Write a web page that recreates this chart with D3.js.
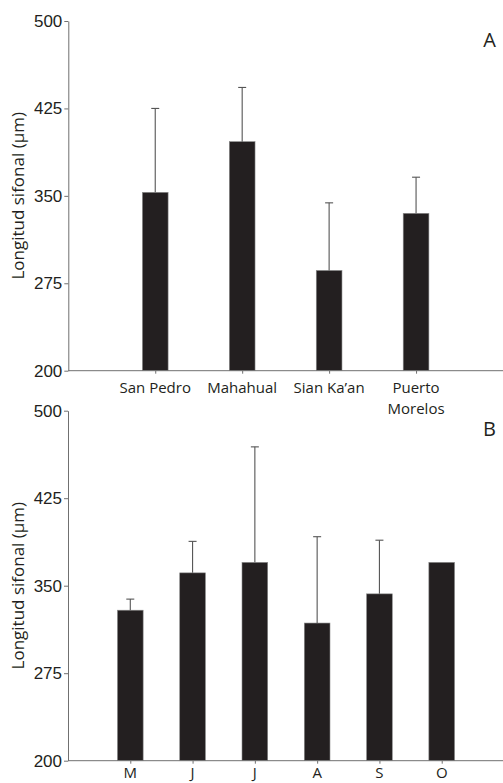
<!DOCTYPE html>
<html>
<head>
<meta charset="utf-8">
<script src="https://cdn.jsdelivr.net/npm/d3@7"></script>
<style>
  body { margin: 0; background: #fff; }
  svg { display: block; font-family: "Open Sans", "Noto Sans", sans-serif; }
  .axis path, .axis line { stroke: #707070; }
</style>
</head>
<body>
<svg id="chart" width="503" height="783"></svg>
<script>
// datos del panel A (sitios)
const sitios = ["San Pedro", "Mahahual", "Sian Ka’an", "Puerto Morelos"];
const mediaSitio = [353, 396.5, 286, 335];
const errorSitio = [72, 46.5, 58, 31];

// datos del panel B (meses)
const meses = ["M", "J", "J", "A", "S", "O"];
const mediaMes = [329, 361, 370, 318, 343, 370];
const errorMes = [9.5, 27, 99, 74, 46, 0];

const yTicks = [200, 275, 350, 425, 500];

const svg = d3.select("#chart");

function panel(cfg) {
  const g = svg.append("g");
  const idx = cfg.labels.map((d, i) => i);

  const x = d3.scalePoint().domain(idx).range([cfg.left, cfg.right]).padding(1);
  const y = d3.scaleLinear().domain([200, 500]).range([cfg.bottom, cfg.top]);
  const barW = 25.7;

  // barras
  g.selectAll(".bar")
    .data(idx)
    .enter()
    .append("rect")
    .attr("x", (i) => x(i) - barW / 2)
    .attr("y", (i) => y(cfg.media[i]))
    .attr("width", barW)
    .attr("height", (i) => y(200) - y(cfg.media[i]))
    .attr("fill", "#231f20")
    .attr("stroke", "#8a8a8a")
    .attr("stroke-width", 0.6);

  // barras de error (solo hacia arriba)
  const err = g.selectAll(".err")
    .data(idx.filter((i) => cfg.error[i] > 0))
    .enter()
    .append("g")
    .attr("stroke", "#555")
    .attr("stroke-width", 1.1);

  err.append("line")
    .attr("x1", (i) => x(i))
    .attr("x2", (i) => x(i))
    .attr("y1", (i) => y(cfg.media[i]))
    .attr("y2", (i) => y(cfg.media[i] + cfg.error[i]));

  err.append("line")
    .attr("x1", (i) => x(i) - 4)
    .attr("x2", (i) => x(i) + 4)
    .attr("y1", (i) => y(cfg.media[i] + cfg.error[i]))
    .attr("y2", (i) => y(cfg.media[i] + cfg.error[i]));

  // eje y
  const yAxis = g.append("g")
    .attr("class", "axis")
    .attr("transform", `translate(${cfg.left},0)`)
    .call(d3.axisLeft(y).tickValues(yTicks).tickSize(4).tickSizeOuter(0));
  yAxis.selectAll("text")
    .attr("font-size", 17)
    .attr("fill", "#231f20")
    .attr("x", -6);

  // eje x
  const xAxis = g.append("g")
    .attr("class", "axis")
    .attr("transform", `translate(0,${cfg.bottom})`)
    .call(d3.axisBottom(x).tickSize(3).tickSizeOuter(0).tickFormat(() => ""));
  xAxis.select(".domain").attr("d", `M${cfg.left},0H${cfg.right}`);

  // etiquetas de categoría ("Puerto Morelos" en dos líneas, cada una su propio texto)
  const lineas = [];
  idx.forEach((i) => {
    const lab = cfg.labels[i];
    const partes = lab.startsWith("Puerto") ? lab.split(" ") : [lab];
    partes.forEach((t, k) => lineas.push({ i, t, k }));
  });

  g.selectAll(".cat")
    .data(lineas)
    .enter()
    .append("text")
    .attr("text-anchor", "middle")
    .attr("font-size", cfg.labelSize)
    .attr("fill", "#231f20")
    .attr("x", (d) => x(d.i))
    .attr("y", (d) => cfg.bottom + cfg.labelDy + d.k * 20.5)
    .text((d) => d.t);

  // título del eje y
  g.append("text")
    .attr("transform", `translate(24,${(cfg.top + cfg.bottom) / 2}) rotate(-90)`)
    .attr("text-anchor", "middle")
    .attr("font-size", 17)
    .attr("fill", "#231f20")
    .text("Longitud sifonal (μm)");

  // letra del panel
  g.append("text")
    .attr("x", 496)
    .attr("y", cfg.top + cfg.letterDy)
    .attr("text-anchor", "end")
    .attr("font-size", 20)
    .attr("fill", "#231f20")
    .text(cfg.letter);
}

panel({
  labels: sitios, media: mediaSitio, error: errorSitio,
  top: 21, bottom: 370.7, left: 68.3, right: 503,
  labelDy: 22.5, labelSize: 15, letter: "A", letterDy: 26
});

panel({
  labels: meses, media: mediaMes, error: errorMes,
  top: 410.7, bottom: 760.7, left: 68, right: 504,
  labelDy: 17.5, labelSize: 15, letter: "B", letterDy: 25
});
</script>
</body>
</html>
